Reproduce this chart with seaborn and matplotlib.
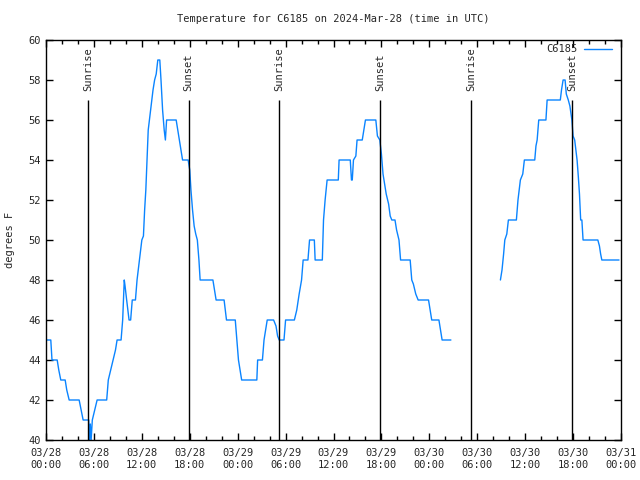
import numpy as np, pandas as pd, matplotlib
matplotlib.use('Agg')
import matplotlib.pyplot as plt
import matplotlib.dates as mdates
import seaborn as sns

# temperature readings, hours after 2024-03-28 00:00 UTC (NaN = no data)
hours = [0.0, 0.6, 0.75, 1.4, 1.6, 1.85, 2.4, 2.6, 2.9, 4.15, 4.4, 4.65, 5.35, 5.45, 5.55, 5.65, 5.8,
         6.1, 6.4, 7.6, 7.8, 8.1, 8.4, 8.7, 8.9, 9.4, 9.6, 9.8, 9.9, 10.1, 10.4, 10.6, 10.8, 11.2,
         11.4, 11.7, 12.0, 12.2, 12.35, 12.5, 12.65, 12.8, 12.95, 13.2, 13.4, 13.6, 13.8, 14.0, 14.25,
         14.4, 14.6, 14.8, 14.95, 15.1, 16.3, 16.5, 16.7, 16.9, 17.1, 17.8, 18.0, 18.15, 18.35, 18.55,
         18.75, 18.95, 19.15, 19.3, 20.9, 21.1, 21.3, 22.3, 22.6, 23.7, 23.9, 24.1, 24.3, 24.5, 26.4,
         26.5, 27.1, 27.3, 27.5, 27.7, 28.5, 28.8, 29.0, 29.2, 29.8, 30.0, 31.1, 31.4, 31.7, 32.0,
         32.2, 32.8, 33.0, 33.6, 33.7, 34.6, 34.75, 34.95, 35.2, 36.6, 36.7, 38.1, 38.25, 38.35, 38.5,
         38.8, 38.95, 39.6, 39.8, 40.0, 41.3, 41.5, 41.8, 42.0, 42.2, 42.4, 42.6, 42.9, 43.1, 43.3,
         43.7, 43.9, 44.2, 44.4, 45.6, 45.8, 46.0, 46.3, 46.6, 47.9, 48.1, 48.3, 49.2, 49.4, 49.6,
         50.7, 53.0, 56.9, 57.1, 57.3, 57.45, 57.7, 57.9, 58.9, 59.1, 59.4, 59.7, 59.9, 61.2, 61.35,
         61.5, 61.7, 62.6, 62.75, 64.4, 64.55, 64.75, 65.0, 65.15, 65.4, 65.6, 65.85, 66.0, 66.2,
         66.35, 66.5, 66.65, 66.8, 66.95, 67.1, 67.25, 69.1, 69.3, 69.45, 69.6, 71.75]
temps = [45, 45, 44, 44, 43.5, 43, 43, 42.5, 42, 42, 41.5, 41, 41, 40, 40.8, 40, 41,
         41.5, 42, 42, 43, 43.5, 44, 44.5, 45, 45, 46, 48, 47.7, 47, 46, 46, 47, 47,
         48, 49, 50, 50.2, 51.5, 52.5, 54, 55.5, 56, 56.8, 57.5, 58, 58.3, 59, 59,
         58, 56.5, 55.5, 55, 56, 56, 55.5, 55, 54.5, 54, 54, 53.5, 52.5, 51.5, 50.7,
         50.3, 50, 49, 48, 48, 47.5, 47, 47, 46, 46, 45, 44, 43.5, 43, 43,
         44, 44, 45, 45.5, 46, 46, 45.7, 45.2, 45, 45, 46, 46, 46.5, 47.3, 48,
         49, 49, 50, 50, 49, 49, 51, 52, 53, 53, 54, 54, 53, 53, 54,
         54.2, 55, 55, 55.5, 56, 56, 55.2, 55, 54.3, 53.3, 52.8, 52.3, 51.8, 51.2, 51,
         51, 50.5, 50, 49, 49, 48, 47.8, 47.3, 47, 47, 46.5, 46, 46, 45.5, 45,
         45, np.nan, 48, 48.5, 49.3, 50, 50.3, 51, 51, 52, 53, 53.3, 54, 54, 54.7,
         55, 56, 56, 57, 57, 57.5, 58, 58, 57.3, 57, 56.7, 56, 55.2, 55,
         54.5, 54, 53.2, 52.3, 51, 51, 50, 50, 49.7, 49.3, 49, 49]

sunrise_h = [5.3, 29.2, 53.25]
sunset_h = [17.85, 41.85, 65.9]

start = pd.Timestamp('2024-03-28 00:00')
df = pd.DataFrame({'time': start + pd.to_timedelta(hours, unit='h'), 'temp': temps})
# split at the data gap so the line breaks
df['seg'] = df['temp'].isna().cumsum()
df = df.dropna()

sns.set_style('ticks')
plt.rcParams['font.family'] = ['DejaVu Sans Mono']
plt.rcParams['font.size'] = 7.5

fig = plt.figure(figsize=(6.4, 4.8), dpi=100)
ax = fig.add_axes([46/640, 40/480, 575/640, 400/480])

blue = '#0a84ff'
first = True
for s, d in df.groupby('seg'):
    sns.lineplot(data=d, x='time', y='temp', ax=ax, color=blue, linewidth=1,
                 label='C6185' if first else None, legend=first)
    first = False

ax.vlines(start + pd.to_timedelta(sunrise_h + sunset_h, unit='h'), 40, 57, color='black', linewidth=1)
for h in sunrise_h:
    ax.text(start + pd.Timedelta(hours=h), 57.45, 'Sunrise', rotation=90, ha='center', va='bottom', fontsize=7.5)
for h in sunset_h:
    ax.text(start + pd.Timedelta(hours=h), 57.45, 'Sunset', rotation=90, ha='center', va='bottom', fontsize=7.5)

ax.set_xlim(start, start + pd.Timedelta(hours=72))
ax.set_ylim(40, 60)
ax.set_yticks(np.arange(40, 61, 2))
ax.xaxis.set_major_locator(mdates.HourLocator(byhour=[0, 6, 12, 18]))
ax.xaxis.set_minor_locator(mdates.HourLocator(interval=2))
ax.xaxis.set_major_formatter(mdates.DateFormatter('%m/%d\n%H:%M'))
ax.tick_params(which='both', direction='in', top=True, right=True, color='black', labelsize=7.5)
ax.tick_params(which='major', length=5, width=1)
ax.tick_params(which='minor', length=3, width=1)
ax.tick_params(axis='x', pad=6)
for sp in ax.spines.values():
    sp.set_color('black')
    sp.set_linewidth(1)
ax.set_xlabel('')
ax.set_ylabel('')

ax.legend(loc='upper right', bbox_to_anchor=(0.995, 1.005), frameon=False, markerfirst=False,
          handlelength=2.7, handletextpad=0.6, borderaxespad=0.2, fontsize=7.5)

fig.text(333/640, 1 - 19/480, 'Temperature for C6185 on 2024-Mar-28 (time in UTC)',
         ha='center', va='center', fontsize=7.5)
fig.text(10/640, 1 - 240/480, 'degrees F', rotation=90, ha='center', va='center', fontsize=7.5)

fig.savefig('out.png', dpi=100)
